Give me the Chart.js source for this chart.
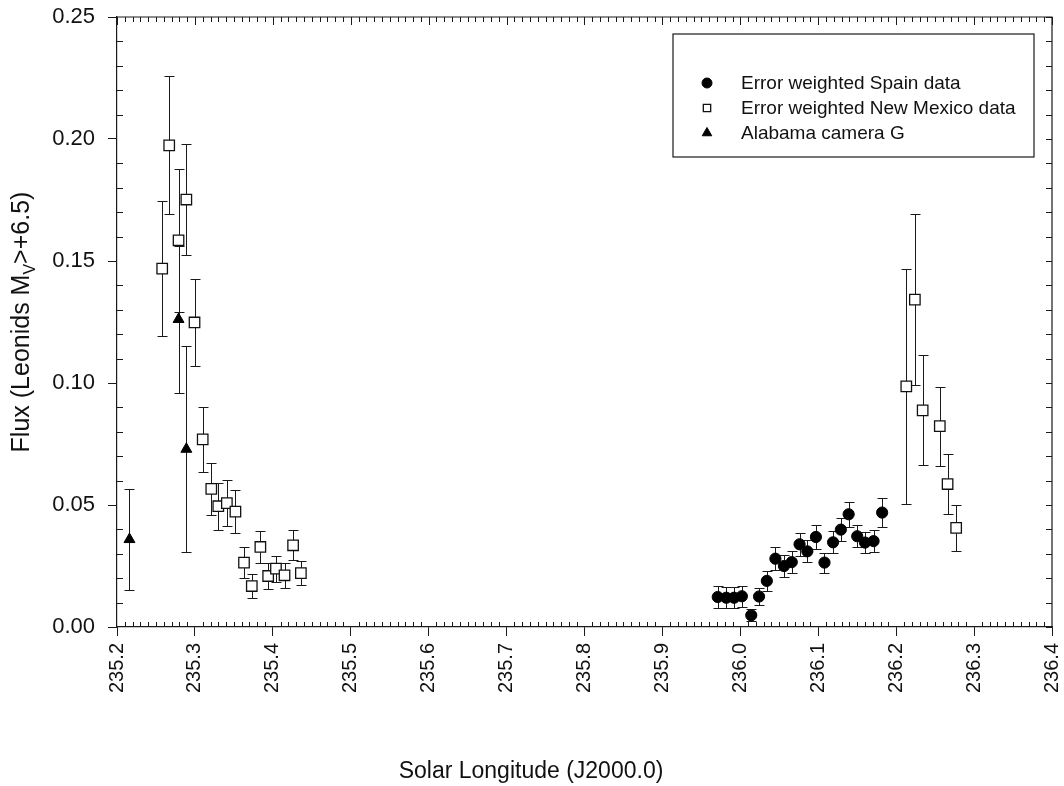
<!DOCTYPE html>
<html>
<head>
<meta charset="utf-8">
<script src="https://cdn.jsdelivr.net/npm/chart.js@4/dist/chart.umd.min.js"></script>
<style>
  html, body { margin: 0; padding: 0; background: #fff; }
  canvas { display: block; }
</style>
</head>
<body>
<canvas id="c" width="1064" height="786"></canvas>
<script>
// Solar longitude (J2000.0) of each measurement, flux and its 1-sigma error
const spainX = [235.971, 235.982, 235.992, 236.002, 236.014, 236.024, 236.034, 236.045, 236.056, 236.066, 236.076,
                236.086, 236.097, 236.108, 236.119, 236.129, 236.139, 236.150, 236.160, 236.171, 236.182];
const spainY = [0.0123, 0.0120, 0.0120, 0.0126, 0.0048, 0.0125, 0.0189, 0.0280, 0.0250, 0.0266, 0.0339,
                0.0310, 0.0369, 0.0264, 0.0347, 0.0399, 0.0462, 0.0372, 0.0346, 0.0352, 0.0469];
const spainErr = [0.0044, 0.0043, 0.0043, 0.0043, 0.0025, 0.0034, 0.0042, 0.0048, 0.0045, 0.0044, 0.0048,
                  0.0045, 0.0050, 0.0041, 0.0045, 0.0048, 0.0051, 0.0046, 0.0044, 0.0045, 0.0059];

const nmX = [235.258, 235.267, 235.279, 235.289, 235.2995, 235.310, 235.321, 235.330, 235.341, 235.352, 235.363,
             235.373, 235.384, 235.394, 235.404, 235.415, 235.426, 235.436,
             236.213, 236.224, 236.234, 236.256, 236.266, 236.277];
const nmY = [0.1469, 0.1974, 0.1585, 0.1752, 0.1248, 0.0769, 0.0566, 0.0495, 0.0508, 0.0473, 0.0264,
             0.0168, 0.0328, 0.0209, 0.0239, 0.0212, 0.0335, 0.0221,
             0.0986, 0.1342, 0.0888, 0.0823, 0.0586, 0.0406];
const nmErr = [0.0276, 0.0283, 0.0292, 0.0226, 0.0177, 0.0132, 0.0108, 0.0096, 0.0093, 0.0087, 0.0063,
               0.0049, 0.0066, 0.0053, 0.0054, 0.0051, 0.0062, 0.0050,
               0.0482, 0.0350, 0.0225, 0.0162, 0.0124, 0.0095];

const alabamaX = [235.216, 235.279, 235.289];
const alabamaY = [0.0359, 0.1261, 0.0729];
const alabamaErr = [0.0207, 0.0300, 0.0423];

const seriesNames = ['Error weighted Spain data', 'Error weighted New Mexico data', 'Alabama camera G'];
const xTitle = 'Solar Longitude (J2000.0)';
const yTitleParts = ['Flux (Leonids M', 'V', '>+6.5)'];

const xMin = 235.2, xMax = 236.4, xStep = 0.1, xMinorStep = 0.01;
const yMin = 0, yMax = 0.25, yStep = 0.05, yMinorStep = 0.01;

const FONT = '"Liberation Sans", Arial, Helvetica, sans-serif';
const INK = '#1a1a1a';

function points(xs, ys) { return xs.map((x, i) => ({ x: x, y: ys[i] })); }

// vertical error bars with end caps, drawn underneath the markers
const errorBars = {
  id: 'errorBars',
  beforeDatasetsDraw(chart) {
    const { ctx, scales: { x, y } } = chart;
    ctx.save();
    ctx.strokeStyle = INK;
    ctx.lineWidth = 1;
    chart.data.datasets.forEach(ds => {
      ds.data.forEach((p, i) => {
        const e = ds.errors[i];
        const px = Math.round(x.getPixelForValue(p.x)) + 0.5;
        const t = Math.round(y.getPixelForValue(p.y + e)) + 0.5;
        const b = Math.round(y.getPixelForValue(p.y - e)) + 0.5;
        ctx.beginPath();
        ctx.moveTo(px, t); ctx.lineTo(px, b);
        ctx.moveTo(px - 5, t); ctx.lineTo(px + 5, t);
        ctx.moveTo(px - 5, b); ctx.lineTo(px + 5, b);
        ctx.stroke();
      });
    });
    ctx.restore();
  }
};

// closed frame with minor ticks on all four sides
const frameTicks = {
  id: 'frameTicks',
  afterDraw(chart) {
    const { ctx, chartArea: a, scales: { x, y } } = chart;
    ctx.save();
    ctx.strokeStyle = INK;
    ctx.lineWidth = 1.2;
    ctx.beginPath();
    ctx.moveTo(a.left, a.top); ctx.lineTo(a.right, a.top); ctx.lineTo(a.right, a.bottom);
    ctx.stroke();
    ctx.lineWidth = 1;
    ctx.beginPath();
    const nx = Math.round((xMax - xMin) / xMinorStep);
    for (let i = 0; i <= nx; i++) {
      const px = Math.round(x.getPixelForValue(xMin + i * xMinorStep)) + 0.5;
      const major = i % 10 === 0;
      if (!major) { ctx.moveTo(px, a.bottom); ctx.lineTo(px, a.bottom - 5); }
      ctx.moveTo(px, a.top); ctx.lineTo(px, a.top + (major ? 8 : 5));
    }
    const ny = Math.round((yMax - yMin) / yMinorStep);
    for (let j = 0; j <= ny; j++) {
      const py = Math.round(y.getPixelForValue(yMin + j * yMinorStep)) + 0.5;
      if (j % 5 !== 0) { ctx.moveTo(a.left, py); ctx.lineTo(a.left + 6, py); }
      ctx.moveTo(a.right, py); ctx.lineTo(a.right - 6, py);
    }
    ctx.stroke();
    ctx.restore();
  }
};

// legend box, axis titles
const annotations = {
  id: 'annotations',
  afterDraw(chart) {
    const { ctx } = chart;
    ctx.save();
    // legend
    ctx.strokeStyle = INK;
    ctx.lineWidth = 1.2;
    ctx.strokeRect(673, 34, 361, 123);
    ctx.textBaseline = 'middle';
    ctx.textAlign = 'left';
    const rows = [83, 108, 133];
    const legendRadius = [5, 5.2, 5.5];
    chart.data.datasets.forEach((ds, i) => {
      ctx.fillStyle = ds.pointBackgroundColor;
      ctx.strokeStyle = ds.pointBorderColor;
      ctx.lineWidth = ds.borderWidth;
      Chart.helpers.drawPoint(ctx, {
        pointStyle: ds.pointStyle, radius: legendRadius[i], rotation: 0, borderWidth: ds.borderWidth
      }, 707, rows[i]);
      ctx.fillStyle = '#111';
      ctx.font = '19px ' + FONT;
      ctx.fillText(ds.label, 741, rows[i] + 1);
    });
    // x title
    ctx.fillStyle = '#111';
    ctx.font = '23px ' + FONT;
    ctx.textAlign = 'center';
    ctx.textBaseline = 'middle';
    ctx.fillText(xTitle, 531, 772);
    // y title with subscript
    ctx.translate(29, 322);
    ctx.rotate(-Math.PI / 2);
    ctx.textAlign = 'left';
    ctx.textBaseline = 'alphabetic';
    const big = '25px ' + FONT, small = '16px ' + FONT;
    ctx.font = big; const w0 = ctx.measureText(yTitleParts[0]).width;
    ctx.font = small; const w1 = ctx.measureText(yTitleParts[1]).width;
    ctx.font = big; const w2 = ctx.measureText(yTitleParts[2]).width;
    let cx = -(w0 + w1 + w2) / 2;
    ctx.font = big; ctx.fillText(yTitleParts[0], cx, 0); cx += w0;
    ctx.font = small; ctx.fillText(yTitleParts[1], cx, 6); cx += w1;
    ctx.font = big; ctx.fillText(yTitleParts[2], cx, 0);
    ctx.restore();
  }
};

new Chart(document.getElementById('c'), {
  type: 'scatter',
  data: {
    datasets: [
      {
        label: seriesNames[0], data: points(spainX, spainY), errors: spainErr,
        pointStyle: 'circle', pointRadius: 5.6, pointHoverRadius: 5.6,
        pointBackgroundColor: '#000', pointBorderColor: '#000', borderWidth: 1
      },
      {
        label: seriesNames[1], data: points(nmX, nmY), errors: nmErr,
        pointStyle: 'rect', pointRadius: 7.4, pointHoverRadius: 7.4,
        pointBackgroundColor: '#fff', pointBorderColor: '#111', borderWidth: 1.3
      },
      {
        label: seriesNames[2], data: points(alabamaX, alabamaY), errors: alabamaErr,
        pointStyle: 'triangle', pointRadius: 6.3, pointHoverRadius: 6.3,
        pointBackgroundColor: '#000', pointBorderColor: '#000', borderWidth: 1
      }
    ]
  },
  options: {
    responsive: false,
    animation: false,
    devicePixelRatio: 1,
    layout: { padding: { left: 0, top: 17, right: 12, bottom: 0 } },
    plugins: { legend: { display: false }, tooltip: { enabled: false } },
    scales: {
      x: {
        type: 'linear', min: xMin, max: xMax,
        afterFit(s) { s.height = 159; s.paddingLeft = 0; s.paddingRight = 0; },
        border: { display: true, color: INK, width: 1.2 },
        grid: { display: true, drawOnChartArea: false, drawTicks: true, tickLength: 9, color: INK, lineWidth: 1 },
        ticks: {
          stepSize: xStep, autoSkip: false, minRotation: 90, maxRotation: 90, padding: 7,
          color: '#111', font: { family: FONT, size: 20 },
          callback: v => v.toFixed(1)
        }
      },
      y: {
        type: 'linear', min: yMin, max: yMax,
        afterFit(s) { s.width = 117; s.paddingTop = 0; s.paddingBottom = 0; },
        border: { display: true, color: INK, width: 1.2 },
        grid: { display: true, drawOnChartArea: false, drawTicks: true, tickLength: 9, color: INK, lineWidth: 1 },
        ticks: {
          stepSize: yStep, padding: 13,
          color: '#111', font: { family: FONT, size: 22 },
          callback: v => v.toFixed(2)
        }
      }
    }
  },
  plugins: [errorBars, frameTicks, annotations]
});
</script>
</body>
</html>
